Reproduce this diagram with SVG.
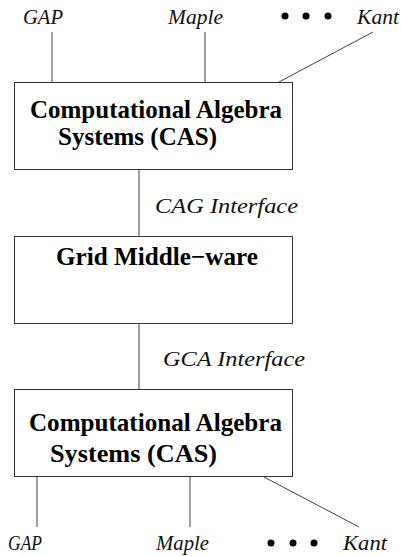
<svg xmlns="http://www.w3.org/2000/svg" width="401" height="556" viewBox="0 0 401 556">
<style>
.box{fill:#fff;stroke:#333;stroke-width:1}
.ln{stroke:#444;stroke-width:1;fill:none}
.b{font-family:'Liberation Serif','Times New Roman',serif;font-weight:bold;font-size:24.5px;fill:#000}
.i{font-family:'Liberation Serif','Times New Roman',serif;font-style:italic;font-size:20px;fill:#111}
.dot{fill:#000}
</style>
<rect width="401" height="556" fill="#fff"/>
<g id="connectors">
<line class="ln" x1="52" y1="32" x2="52" y2="82"/>
<line class="ln" x1="205" y1="32" x2="205" y2="82"/>
<line class="ln" x1="373" y1="32" x2="279" y2="82"/>
<line class="ln" x1="139" y1="169" x2="139" y2="236"/>
<line class="ln" x1="139" y1="324" x2="139" y2="389"/>
<line class="ln" x1="37" y1="477" x2="37" y2="527"/>
<line class="ln" x1="190" y1="477" x2="190" y2="527"/>
<line class="ln" x1="264" y1="477" x2="359" y2="527"/>
</g>
<g id="cas-top">
<rect class="box" x="14.5" y="82.5" width="278" height="87"/>
<text class="b" x="30" y="118" textLength="252" lengthAdjust="spacingAndGlyphs">Computational Algebra</text>
<text class="b" x="58" y="145" textLength="159" lengthAdjust="spacingAndGlyphs">Systems (CAS)</text>
</g>
<g id="middleware">
<rect class="box" x="14.5" y="236.5" width="278" height="87"/>
<text class="b" x="56" y="265" textLength="202" lengthAdjust="spacingAndGlyphs">Grid Middle−ware</text>
</g>
<g id="cas-bottom">
<rect class="box" x="14.5" y="389.5" width="278" height="87"/>
<text class="b" x="29" y="431" textLength="253" lengthAdjust="spacingAndGlyphs">Computational Algebra</text>
<text class="b" x="50" y="462" textLength="167" lengthAdjust="spacingAndGlyphs">Systems (CAS)</text>
</g>
<g id="labels-top">
<text class="i" x="23" y="24" textLength="40" lengthAdjust="spacingAndGlyphs">GAP</text>
<text class="i" x="168" y="24" textLength="55" lengthAdjust="spacingAndGlyphs">Maple</text>
<circle class="dot" cx="285" cy="16" r="3.5"/>
<circle class="dot" cx="306" cy="16" r="3.5"/>
<circle class="dot" cx="328" cy="16" r="3.5"/>
<text class="i" x="357" y="24" textLength="42" lengthAdjust="spacingAndGlyphs">Kant</text>
</g>
<g id="cag-label">
<text class="i" x="155" y="213" textLength="143" lengthAdjust="spacingAndGlyphs">CAG Interface</text>
</g>
<g id="gca-label">
<text class="i" x="163" y="366" textLength="142" lengthAdjust="spacingAndGlyphs">GCA Interface</text>
</g>
<g id="labels-bottom">
<text class="i" x="8" y="550" textLength="34" lengthAdjust="spacingAndGlyphs">GAP</text>
<text class="i" x="156" y="550" textLength="53" lengthAdjust="spacingAndGlyphs">Maple</text>
<circle class="dot" cx="271" cy="543" r="3.5"/>
<circle class="dot" cx="293" cy="543" r="3.5"/>
<circle class="dot" cx="314" cy="543" r="3.5"/>
<text class="i" x="343" y="550" textLength="44" lengthAdjust="spacingAndGlyphs">Kant</text>
</g>
</svg>
